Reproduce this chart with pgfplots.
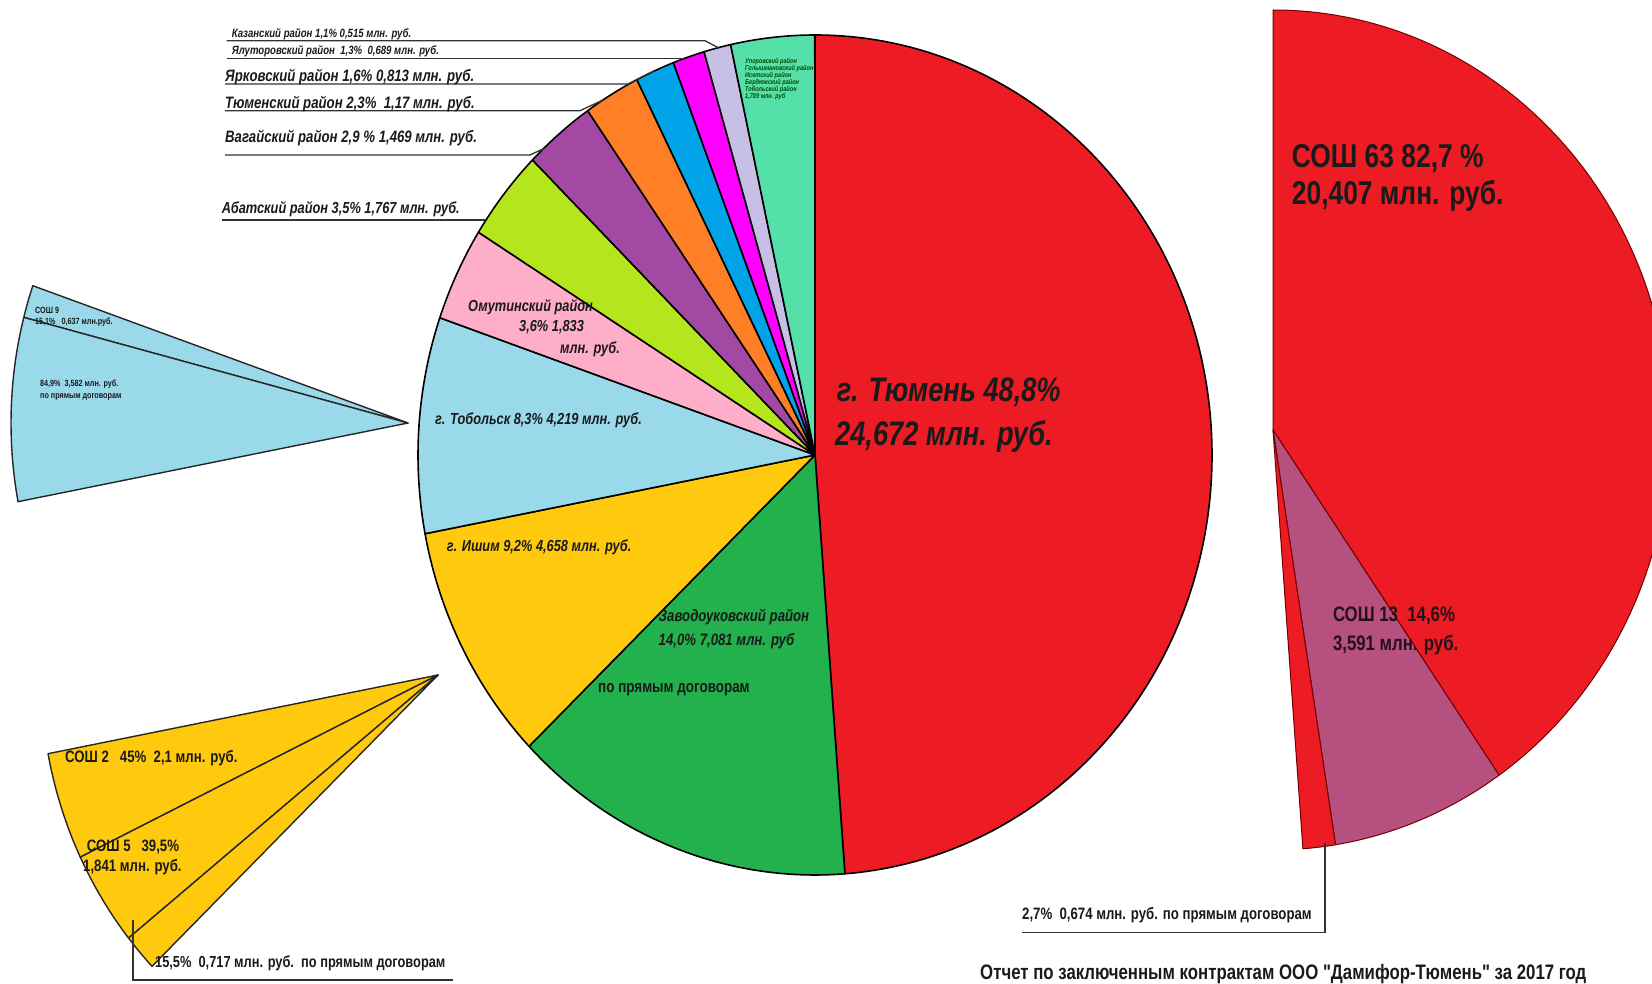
\documentclass[border=0pt]{standalone}
\usepackage{fontspec}
\setmainfont{Liberation Sans}[FakeStretch=0.8]
\newfontfamily\plainq{Liberation Sans}[FakeStretch=0.8, Ligatures=TeXOff]
\usepackage{pgfplots}
\pgfplotsset{compat=1.18}
\usepackage{pgfplotstable}

\definecolor{cRed}{HTML}{ED1C24}
\definecolor{cGreen}{HTML}{22B14C}
\definecolor{cGold}{HTML}{FFC90E}
\definecolor{cSky}{HTML}{99D9EA}
\definecolor{cPink}{HTML}{FFAEC9}
\definecolor{cLime}{HTML}{B5E61D}
\definecolor{cPurple}{HTML}{A349A4}
\definecolor{cOrange}{HTML}{FF7F27}
\definecolor{cBlue}{HTML}{00A2E8}
\definecolor{cMagenta}{HTML}{FF00FF}
\definecolor{cLav}{HTML}{C8BFE7}
\definecolor{cMint}{HTML}{55E0AA}
\definecolor{cMauve}{HTML}{B5507F}
\definecolor{cText}{HTML}{1A1A1A}

\newcommand\fs[1]{\fontsize{#1}{#1}\selectfont}

% share of each slice in percent; sub pies are shares of their parent slice
\pgfplotstableread{
share col
48.8 cRed
14.0 cGreen
9.2  cGold
8.3  cSky
3.6  cPink
3.5  cLime
2.9  cPurple
2.3  cOrange
1.6  cBlue
1.3  cMagenta
1.1  cLav
3.4  cMint
}\maintab

\pgfplotstableread{
share col
82.7 cRed
14.6 cMauve
2.7  cRed
}\tyumtab

\pgfplotstableread{
share col
15.1 cSky
84.9 cSky
}\tobtab

\pgfplotstableread{
share col
45.0 cGold
39.5 cGold
15.5 cGold
}\ishtab

% #1 table, #2 #3 centre, #4 start angle (clockwise from top), #5 direction, #6 span in degrees, #7 style
\newcommand\drawpie[7]{%
  \pgfplotstablegetrowsof{#1}%
  \pgfmathtruncatemacro\nlast{\pgfplotsretval-1}%
  \pgfmathsetmacro\acc{#4}%
  \pgfplotsforeachungrouped \i in {0,...,\nlast}{%
    \pgfplotstablegetelem{\i}{share}\of{#1}\let\share\pgfplotsretval
    \pgfplotstablegetelem{\i}{col}\of{#1}\let\col\pgfplotsretval
    \pgfmathsetmacro\tA{90-\acc}%
    \pgfmathsetmacro\acc{\acc+(#5)*(\share/100)*(#6)}%
    \pgfmathsetmacro\tB{90-\acc}%
    \edef\doit{\noexpand\filldraw[fill=\col,#7] (axis cs:#2,#3) -- ++(\tA:397pt and 420pt)
      arc[start angle=\tA,end angle=\tB,x radius=397pt,y radius=420pt] -- cycle;}%
    \doit
  }%
}

\begin{document}
\begin{tikzpicture}
\useasboundingbox (0,0) rectangle (1652pt,984pt);
\begin{axis}[hide axis, scale only axis, width=1652pt, height=984pt,
  xmin=0, xmax=1652, ymin=0, ymax=984, y dir=reverse, clip=false]

% main pie and the three broken-out slices
\drawpie{\maintab}{815}{455}{0}{1}{360}{draw=black,line width=1.6pt,line join=round}
\drawpie{\tyumtab}{1273}{430}{0}{1}{48.8*3.6}{draw=black!55!red,line width=1pt,line join=round}
\drawpie{\tobtab}{408}{423}{80.3*3.6}{-1}{8.3*3.6}{draw=black!85,line width=1.4pt,line join=round}
\drawpie{\ishtab}{438}{675}{72*3.6}{-1}{9.2*3.6}{draw=black!85,line width=1.4pt,line join=round}

% leader lines
\begin{scope}[line width=1.3pt, draw=black!80]
\draw (axis cs:226.7,40.7) -- (axis cs:705,40.7) -- (axis cs:718,47.6);
\draw (axis cs:226.7,58.3) -- (axis cs:684.4,58.3);
\draw (axis cs:225,84) -- (axis cs:628,84) -- (axis cs:654,71);
\draw (axis cs:225,110.7) -- (axis cs:580,110.7) -- (axis cs:603,100);
\draw (axis cs:225,155) -- (axis cs:530,155) -- (axis cs:545,148);
\draw (axis cs:221.7,220) -- (axis cs:485,220);
\draw (axis cs:1325,843) -- (axis cs:1325,932.5) -- (axis cs:1022,932.5);
\draw (axis cs:133,920) -- (axis cs:133,980) -- (axis cs:453,980);
\end{scope}

% labels of the small districts
\begin{scope}[every node/.style={anchor=base west, inner sep=0pt, text=cText}]
\node[font=\bfseries\itshape\fs{12}] at (axis cs:231.7,37.5) {Казанский район 1,1\% 0,515 млн. руб.};
\node[font=\bfseries\itshape\fs{12}] at (axis cs:231.7,55) {Ялуторовский район\ \ 1,3\%\ \ 0,689 млн. руб.};
\node[font=\bfseries\itshape\fs{16.5}] at (axis cs:225,81.5) {Ярковский район 1,6\% 0,813 млн. руб.};
\node[font=\bfseries\itshape\fs{16.5}] at (axis cs:225,108.5) {Тюменский район 2,3\%\ \ 1,17 млн. руб.};
\node[font=\bfseries\itshape\fs{16.5}] at (axis cs:225,142.5) {Вагайский район 2,9 \% 1,469 млн. руб.};
\node[font=\bfseries\itshape\fs{16}] at (axis cs:221.7,214) {Абатский район 3,5\% 1,767 млн. руб.};

% inside the main pie
\node[font=\bfseries\itshape\fs{34}] at (axis cs:836.7,401) {г. Тюмень 48,8\%};
\node[font=\bfseries\itshape\fs{34}] at (axis cs:835,445) {24,672 млн. руб.};
\node[font=\bfseries\itshape\fs{16}] at (axis cs:435,424) {г. Тобольск 8,3\% 4,219 млн. руб.};
\node[font=\bfseries\itshape\fs{16}] at (axis cs:446.7,551) {г. Ишим 9,2\% 4,658 млн. руб.};
\node[font=\bfseries\itshape\fs{16}] at (axis cs:468,312) {Омутинский район};
\node[font=\bfseries\itshape\fs{16}] at (axis cs:519,332) {3,6\% 1,833};
\node[font=\bfseries\itshape\fs{16}] at (axis cs:560,353) {млн. руб.};
\node[font=\bfseries\itshape\fs{16.5}] at (axis cs:658.5,621) {Заводоуковский район};
\node[font=\bfseries\itshape\fs{16.5}] at (axis cs:658.5,645) {14,0\% 7,081 млн. руб};
\node[font=\bfseries\fs{16.8}] at (axis cs:598,692) {по прямым договорам};
\node[font=\bfseries\itshape\fs{7}, align=left, text=black!70!green, anchor=north west] at (axis cs:745,58)
  {Упоровский район\\Голышмановский район\\Исетский район\\Бердюжский район\\Тобольский район\\1,789 млн. руб};

% broken-out slices
\node[font=\bfseries\fs{33}] at (axis cs:1291.7,167.5) {СОШ 63 82,7 \%};
\node[font=\bfseries\fs{33}] at (axis cs:1291.7,204.5) {20,407 млн. руб.};
\node[font=\bfseries\fs{21}, text=black!80!cMauve] at (axis cs:1332.8,621) {СОШ 13\ \ 14,6\%};
\node[font=\bfseries\fs{21}, text=black!80!cMauve] at (axis cs:1332.8,650) {3,591 млн. руб.};
\node[font=\bfseries\fs{16.5}] at (axis cs:1022,919) {2,7\%\ \ 0,674 млн. руб. по прямым договорам};
\node[font=\bfseries\fs{9}] at (axis cs:35,313) {СОШ 9};
\node[font=\bfseries\fs{9}] at (axis cs:35,325) {15,1\%\ \ \ 0,637 млн.руб.};
\node[font=\bfseries\fs{9}] at (axis cs:40,386) {84,9\%\ \ 3,582 млн. руб.};
\node[font=\bfseries\fs{9}] at (axis cs:40,398) {по прямым договорам};
\node[font=\bfseries\fs{16.5}] at (axis cs:65,762) {СОШ 2\ \ \ 45\%\ \ 2,1 млн. руб.};
\node[font=\bfseries\fs{16.5}] at (axis cs:86.7,851) {СОШ 5\ \ \ 39,5\%};
\node[font=\bfseries\fs{16.5}] at (axis cs:83,871.5) {1,841 млн. руб.};
\node[font=\bfseries\fs{16}] at (axis cs:155,967) {15,5\%\ \ 0,717 млн. руб.\ \ по прямым договорам};
\node[font=\plainq\bfseries\fs{21}] at (axis cs:980,979) {Отчет по заключенным контрактам ООО "Дамифор-Тюмень" за 2017 год};
\end{scope}
\end{axis}
\end{tikzpicture}
\end{document}
